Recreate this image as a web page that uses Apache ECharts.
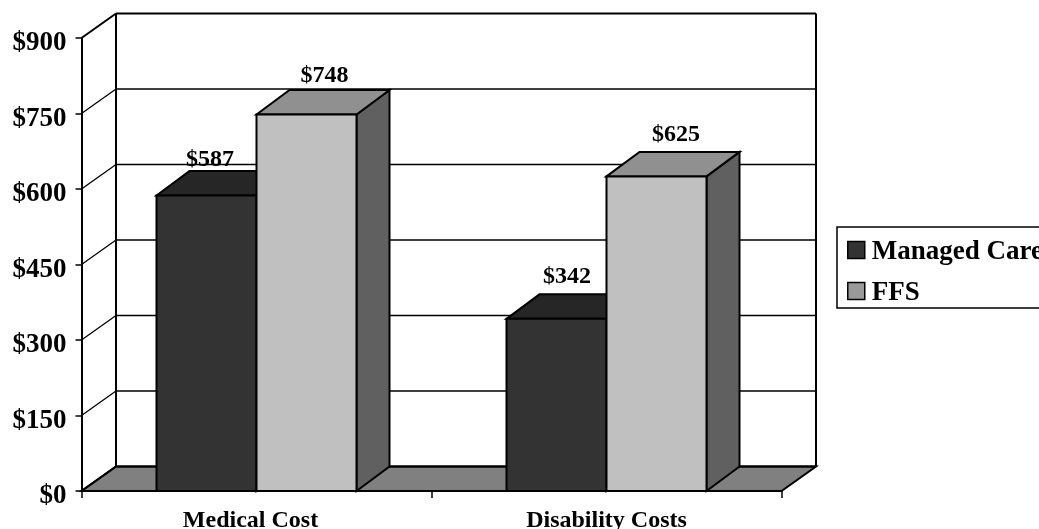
<!DOCTYPE html>
<html>
<head>
<meta charset="utf-8">
<style>html,body{margin:0;padding:0;background:#fff}#chart{width:1039px;height:529px}</style>
<script src="https://cdn.jsdelivr.net/npm/echarts@6/dist/echarts.min.js"></script>
</head>
<body>
<div id="chart"></div>
<script>
// Chart values
const categories = ['Medical Cost', 'Disability Costs'];
const managedCare = [587, 342];
const ffs = [748, 625];
const valueTicks = [0, 150, 300, 450, 600, 750, 900];

// Pseudo-3D projection: how far the back plane sits from the front plane, in pixels
const DEPTH_X = 34.5;
const DEPTH_Y = 24.5;
const BAR_SHARE = 100 / 350;
const FONT = '"Liberation Serif", "Times New Roman", serif';

// Small per-label placement tweaks [dx, dy], by series then category
const labelTweak = {
  'Managed Care': [[-13, -36], [-6, -42.5]],
  'FFS': [[1.5, -38.5], [3, -42]]
};

function face(points, fill, lineWidth) {
  return {
    type: 'polygon',
    shape: { points },
    style: { fill, stroke: '#000', lineWidth: lineWidth || 2, lineJoin: 'miter' }
  };
}

// Back wall, left wall rules and floor, one item per value tick
function renderWall(params, api) {
  const value = api.value(1);
  const p = api.coord([0, value]);
  const rect = params.coordSys;
  const x0 = rect.x, x1 = rect.x + rect.width, y = p[1];
  const isEdge = value === 0 || value === valueTicks[valueTicks.length - 1];
  const children = [];
  if (value === 0) {
    children.push(face([[x0, y], [x1, y], [x1 + DEPTH_X, y - DEPTH_Y], [x0 + DEPTH_X, y - DEPTH_Y]], '#808080', 2));
  }
  if (value === valueTicks[valueTicks.length - 1]) {
    children.push({
      type: 'line',
      shape: { x1: x0 + DEPTH_X, y1: y - DEPTH_Y, x2: x0 + DEPTH_X, y2: rect.y + rect.height - DEPTH_Y },
      style: { stroke: '#000', lineWidth: 2 }
    });
    children.push({
      type: 'line',
      shape: { x1: x1 + DEPTH_X, y1: y - DEPTH_Y, x2: x1 + DEPTH_X, y2: rect.y + rect.height - DEPTH_Y },
      style: { stroke: '#000', lineWidth: 2 }
    });
  }
  children.push({
    type: 'line',
    shape: { x1: x0 + DEPTH_X, y1: y - DEPTH_Y, x2: x1 + DEPTH_X, y2: y - DEPTH_Y },
    style: { stroke: '#000', lineWidth: isEdge ? 2 : 1.6 }
  });
  children.push({
    type: 'line',
    shape: { x1: x0, y1: y, x2: x0 + DEPTH_X, y2: y - DEPTH_Y },
    style: { stroke: '#000', lineWidth: isEdge ? 2 : 1.3 }
  });
  return { type: 'group', children };
}

// One projected box: side and top faces, front face, value label
function barRenderer(seriesName, side, colors) {
  return function (params, api) {
    const cat = api.value(0);
    const value = api.value(1);
    const top = api.coord([cat, value]);
    const bottom = api.coord([cat, 0]);
    const width = api.size([1, 0])[0] * BAR_SHARE;
    const left = side < 0 ? top[0] - width : top[0];
    const right = left + width;
    const tweak = labelTweak[seriesName][cat];
    const dx = DEPTH_X - 1.5, dy = DEPTH_Y;
    return {
      type: 'group',
      children: [
        face([[right, top[1]], [right + dx, top[1] - dy], [right + dx, bottom[1] - dy], [right, bottom[1]]], colors.side),
        face([[left, top[1]], [left + dx, top[1] - dy], [right + dx, top[1] - dy], [right, top[1]]], colors.top),
        face([[left, top[1]], [right, top[1]], [right, bottom[1]], [left, bottom[1]]], colors.front),
        {
          type: 'text',
          z2: 50,
          style: {
            x: (left + right) / 2 + dx / 2 + tweak[0],
            y: top[1] + tweak[1],
            text: '$' + value,
            fill: '#000',
            font: 'bold 24px ' + FONT,
            align: 'center',
            verticalAlign: 'middle'
          }
        }
      ]
    };
  };
}

const chart = echarts.init(document.getElementById('chart'), null, { renderer: 'canvas' });
chart.setOption({
  animation: false,
  backgroundColor: '#fff',
  grid: { left: 81.5, top: 38, width: 700, height: 453, containLabel: false, outerBoundsMode: 'none' },
  xAxis: {
    type: 'category',
    data: [
      { value: categories[0], textStyle: { padding: [0, 12, 0, 0] } },
      { value: categories[1] }
    ],
    z: 5,
    axisLine: { lineStyle: { color: '#000', width: 2 } },
    axisTick: { show: true, alignWithLabel: false, length: 7, lineStyle: { color: '#000', width: 1.5 } },
    axisLabel: {
      color: '#000',
      margin: 18,
      interval: 0,
      fontFamily: FONT,
      fontWeight: 'bold',
      fontSize: 24,
      hideOverlap: false
    }
  },
  yAxis: {
    type: 'value',
    min: valueTicks[0],
    max: valueTicks[valueTicks.length - 1],
    interval: valueTicks[1] - valueTicks[0],
    z: 5,
    splitLine: { show: false },
    axisLine: { show: true, lineStyle: { color: '#000', width: 2 } },
    axisTick: { show: true, length: 6, lineStyle: { color: '#000', width: 1.5 } },
    axisLabel: {
      color: '#000',
      margin: 15,
      fontFamily: FONT,
      fontWeight: 'bold',
      fontSize: 27,
      formatter: v => '{v|$' + v + '}',
      rich: {
        v: { color: '#000', fontFamily: FONT, fontWeight: 'bold', fontSize: 27, padding: [11, 0, 0, 0] }
      }
    }
  },
  legend: {
    orient: 'vertical',
    left: 837,
    top: 227,
    padding: [11.5, 30, 1.5, 10],
    itemGap: 14,
    itemWidth: 17,
    itemHeight: 17,
    borderColor: '#000',
    borderWidth: 1.5,
    backgroundColor: '#fff',
    selectedMode: false,
    formatter: '{t|{name}}',
    textStyle: {
      color: '#000', fontFamily: FONT, fontWeight: 'bold', fontSize: 27,
      rich: {
        t: { color: '#000', fontFamily: FONT, fontWeight: 'bold', fontSize: 27, padding: [4, 0, 0, 2] }
      }
    },
    data: [
      { name: 'Managed Care', icon: 'rect', itemStyle: { color: '#333333', borderColor: '#000', borderWidth: 1.5 } },
      { name: 'FFS', icon: 'rect', itemStyle: { color: '#999999', borderColor: '#000', borderWidth: 1.5 } }
    ]
  },
  series: [
    {
      type: 'custom',
      name: 'wall',
      z: 1,
      clip: false,
      silent: true,
      renderItem: renderWall,
      encode: { x: 0, y: 1 },
      data: valueTicks.map(v => [0, v])
    },
    {
      type: 'custom',
      name: 'Managed Care',
      z: 2,
      clip: false,
      itemStyle: { color: '#333333' },
      renderItem: barRenderer('Managed Care', -1, { front: '#333333', top: '#262626', side: '#1f1f1f' }),
      encode: { x: 0, y: 1 },
      data: managedCare.map((v, i) => [i, v])
    },
    {
      type: 'custom',
      name: 'FFS',
      z: 3,
      clip: false,
      itemStyle: { color: '#999999' },
      renderItem: barRenderer('FFS', 1, { front: '#C0C0C0', top: '#909090', side: '#606060' }),
      encode: { x: 0, y: 1 },
      data: ffs.map((v, i) => [i, v])
    }
  ]
});
</script>
</body>
</html>
